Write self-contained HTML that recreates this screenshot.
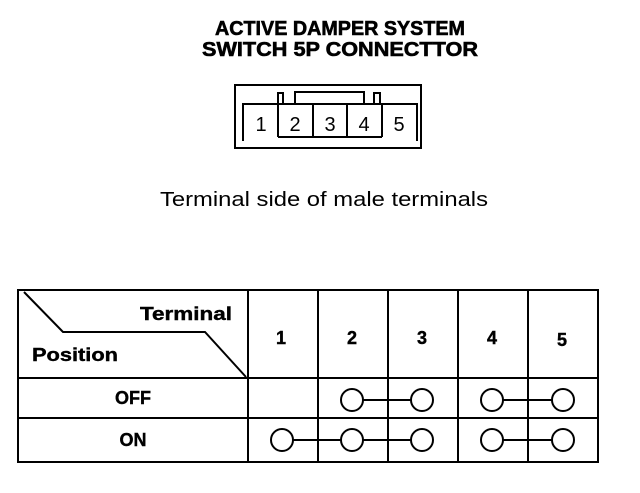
<!DOCTYPE html>
<html><head><style>
body{margin:0;width:640px;height:488px;background:#fff;overflow:hidden}
</style></head><body>
<svg width="640" height="488" xmlns="http://www.w3.org/2000/svg" font-family="Liberation Sans, Arial, sans-serif">
<text x="340" y="35" text-anchor="middle" font-size="20" font-weight="bold" textLength="250" lengthAdjust="spacingAndGlyphs" stroke="#000" stroke-width="0.6">ACTIVE DAMPER SYSTEM</text>
<text x="340" y="56" text-anchor="middle" font-size="20" font-weight="bold" textLength="276" lengthAdjust="spacingAndGlyphs" stroke="#000" stroke-width="0.6">SWITCH 5P CONNECTTOR</text>
<g fill="none" stroke="#000" stroke-width="2">
<rect x="235" y="85" width="186" height="63"/>
<path d="M243 141 V104 H417 V141"/>
<path d="M278 137 V103 M313 137 V103 M347 137 V103 M382 137 V103"/>
<path d="M278 137 H382"/>
<path d="M278 103 V93 H283 V103 M295 103 V92 H364 V103 M374 103 V93 H380 V103"/>
</g>
<g font-size="20" text-anchor="middle">
<text x="261" y="131">1</text><text x="295" y="131">2</text><text x="330" y="131">3</text><text x="364" y="131">4</text><text x="399" y="131">5</text>
</g>
<text x="324" y="206" text-anchor="middle" font-size="20" textLength="328" lengthAdjust="spacingAndGlyphs">Terminal side of male terminals</text>
<g fill="none" stroke="#000" stroke-width="2">
<rect x="18" y="290" width="580" height="172"/>
<path d="M18 378 H598 M18 418 H598 M248 290 V462 M318 290 V462 M388 290 V462 M458 290 V462 M528 290 V462"/>
<path d="M24 292 L63 332 H205 L246 377"/>
<path d="M362 400 H412 M502 400 H552 M293 440 H412 M502 440 H552"/>
</g>
<g fill="#fff" stroke="#000" stroke-width="2">
<circle cx="352" cy="400" r="11"/><circle cx="422" cy="400" r="11"/>
<circle cx="492" cy="400" r="11"/><circle cx="563" cy="400" r="11"/>
<circle cx="282" cy="440" r="11"/><circle cx="352" cy="440" r="11"/><circle cx="422" cy="440" r="11"/>
<circle cx="492" cy="440" r="11"/><circle cx="563" cy="440" r="11"/>
</g>
<g font-size="18" font-weight="bold" stroke="#000" stroke-width="0.4">
<text x="140" y="320" textLength="92" lengthAdjust="spacingAndGlyphs">Terminal</text>
<text x="32" y="361" textLength="86" lengthAdjust="spacingAndGlyphs">Position</text>
<text x="133" y="404" text-anchor="middle">OFF</text>
<text x="133" y="446" text-anchor="middle">ON</text>
<g text-anchor="middle">
<text x="281" y="344">1</text><text x="352" y="344">2</text><text x="422" y="344">3</text><text x="492" y="344">4</text><text x="562" y="346">5</text>
</g>
</g>
</svg>
</body></html>
